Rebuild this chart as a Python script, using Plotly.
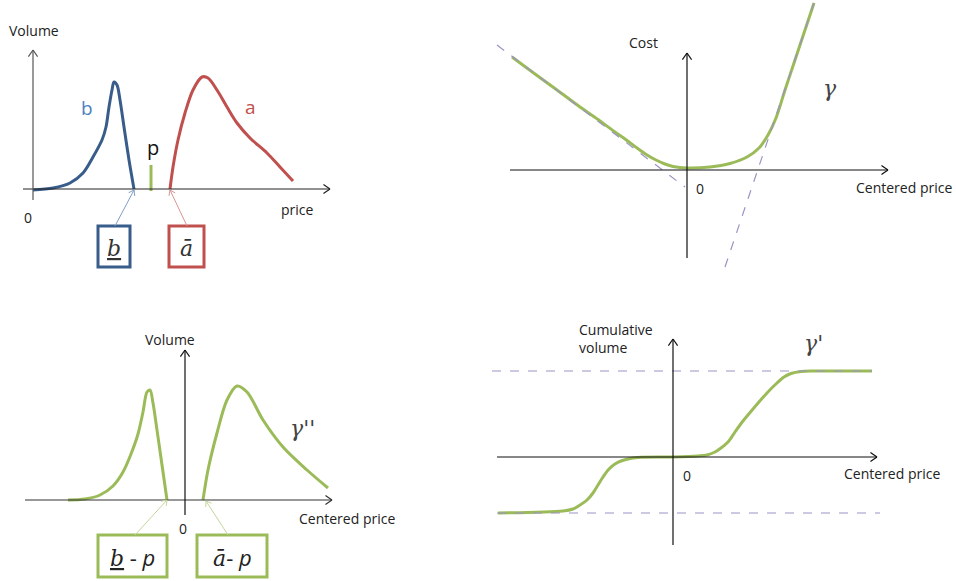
import plotly.graph_objects as go
import math

# ---------------- DATA (schematic units, y up, origin at axis crossing) ----------------
# Panel 1: order book volumes vs price
bid_price = [0, 20, 37, 50, 60, 69, 73, 76, 79, 81, 84, 87, 91, 96, 101]
bid_volume = [-1, 1, 6, 16, 32, 49, 62, 82, 99, 107, 104, 89, 62, 29, 0]
ask_price = [137, 140, 145, 152, 160, 169, 175, 184, 194, 204, 217, 234, 247, 260]
ask_volume = [0, 22, 49, 76, 99, 112, 111, 99, 82, 66, 51, 36, 22, 8]
mid_price = [118, 118]
mid_mark = [-2, 24]

# Panel 2: cost gamma vs centered price
cost_x = [-175, -152, -130, -107, -87, -72, -60, -50, -40, -31, -22, -14, 0,
          23, 43, 60, 72, 81, 89, 98, 107, 117, 127]
cost_y = [113, 96, 80, 63, 49, 38, 29.5, 22, 15, 10, 6, 3.5, 2,
          3, 6.5, 13, 22, 35, 52, 80, 107, 137, 167]
asym_left_x = [-190, -2]
asym_left_y = [125, -17]
asym_right_x = [38, 127]
asym_right_y = [-97, 167]

# Panel 3: gamma'' (volume vs centered price)
g2_left_x = [-117, -100, -85, -72, -62, -54, -47, -42, -38, -35, -32, -28, -23, -18]
g2_left_y = [0, 1, 5, 14, 28, 46, 66, 88, 108, 110, 97, 70, 35, 0]
g2_right_x = [18, 23, 32, 42, 52, 62, 78, 98, 122, 143]
g2_right_y = [0, 30, 67, 100, 114, 108, 80, 53, 30, 12]

# Panel 4: gamma' cumulative volume
g1_x = [-175, -110, -100, -93, -86, -80, -75, -70, -64, -58, -52, -45, -35, 0,
        25, 34, 42, 48, 55, 62, 70, 80, 94, 104, 111, 118, 128, 140, 199]
g1_y = [-56, -54, -52, -48, -43, -36, -28, -20, -12, -7, -4, -2, -0.5, 0,
        1, 2, 5, 9, 15, 25, 36, 48, 64, 74, 80, 83.5, 85.5, 86, 86]
g1_top = 86
g1_bottom = -56

# ---------------- LAYOUT ----------------
W, H = 956, 581
BLUE, BLUE_LBL, BLUE_ARR = "#385d8a", "#4f81bd", "#7f9fc8"
RED, RED_ARR = "#c0504d", "#d99694"
GREEN, GREEN_ARR = "#9bbb59", "#c3d69b"
DASH = "#9a93c4"
SANS = "Open Sans"
SERIF = "DejaVu Serif"
LBL = 14

panels = {
    1: dict(box=(0, 478, 0, 290), origin=(33, 189)),
    2: dict(box=(478, 956, 0, 290), origin=(687, 170)),
    3: dict(box=(0, 478, 290, 581), origin=(185, 500)),
    4: dict(box=(478, 956, 290, 581), origin=(673, 457)),
}

fig = go.Figure()
layout = dict(width=W, height=H, margin=dict(l=0, r=0, t=0, b=0),
              paper_bgcolor="white", plot_bgcolor="white", showlegend=False)
for k, p in panels.items():
    x0, x1, y0, y1 = p["box"]
    ox, oy = p["origin"]
    sfx = "" if k == 1 else str(k)
    ax = dict(visible=False, showgrid=False, zeroline=False, fixedrange=True)
    layout["xaxis" + sfx] = dict(ax, domain=[x0 / W, x1 / W], range=[x0 - ox, x1 - ox],
                                 anchor="y" + sfx)
    layout["yaxis" + sfx] = dict(ax, domain=[1 - y1 / H, 1 - y0 / H], range=[oy - y1, oy - y0],
                                 anchor="x" + sfx)
fig.update_layout(**layout)

shapes, annots = [], []


def refs(k):
    s = "" if k == 1 else str(k)
    return "x" + s, "y" + s


def line(k, xa, ya, xb, yb, color, width=1.2, dash="solid"):
    xr, yr = refs(k)
    shapes.append(dict(type="line", xref=xr, yref=yr, x0=xa, y0=ya, x1=xb, y1=yb,
                       line=dict(color=color, width=width, dash=dash)))


def arrow(k, xa, ya, xb, yb, color, width=1.2, head=8):
    line(k, xa, ya, xb, yb, color, width)
    ang = math.atan2(yb - ya, xb - xa)
    for s in (1, -1):
        a = ang + math.pi - s * math.radians(35)
        line(k, xb, yb, xb + head * math.cos(a), yb + head * math.sin(a), color, width)


def text(k, x, y, t, size=LBL, color="#222", family=SANS, xanchor="center", align="center"):
    xr, yr = refs(k)
    annots.append(dict(xref=xr, yref=yr, x=x, y=y, text=t, showarrow=False,
                       xanchor=xanchor, yanchor="middle", align=align,
                       font=dict(size=size, color=color, family=family)))


def box(k, xa, xb, ya, yb, color, width=3):
    xr, yr = refs(k)
    shapes.append(dict(type="rect", xref=xr, yref=yr, x0=xa, x1=xb, y0=ya, y1=yb,
                       line=dict(color=color, width=width), fillcolor="white"))


def curve(k, xs, ys, color, width=3, smoothing=0.9):
    xr, yr = refs(k)
    fig.add_trace(go.Scatter(x=xs, y=ys, mode="lines", xaxis=xr, yaxis=yr,
                             line=dict(color=color, width=width, shape="spline",
                                       smoothing=smoothing),
                             hoverinfo="skip"))


# ----- Panel 1 -----
arrow(1, -10, 0, 297, 0, "#222")
arrow(1, 0, -11, 0, 139, "#555")
curve(1, bid_price, bid_volume, BLUE)
curve(1, ask_price, ask_volume, RED)
xr, yr = refs(1)
fig.add_trace(go.Scatter(x=mid_price, y=mid_mark, mode="lines", xaxis=xr, yaxis=yr,
                         line=dict(color=GREEN, width=3), hoverinfo="skip"))
text(1, 1, 159, "Volume")
text(1, -5, -28, "0")
text(1, 264, -20, "price")
text(1, 54, 81, "b", size=19, color=BLUE_LBL)
text(1, 217, 82, "a", size=19, color=RED)
text(1, 120, 42, "p", size=20, color="#111")
box(1, 65, 97, -37, -78, BLUE)
box(1, 136, 171, -37, -78, RED)
arrow(1, 82, -37, bid_price[-1], -1, BLUE_ARR, width=1, head=6)
arrow(1, 154, -37, ask_price[0], -1, RED_ARR, width=1, head=6)
text(1, 81, -59, "<u><i>b</i></u>", size=22, family=SERIF, color="#333")
text(1, 153.5, -59, "<i>ā</i>", size=22, family=SERIF, color="#333")

# ----- Panel 2 -----
line(2, asym_left_x[0], asym_left_y[0], asym_left_x[1], asym_left_y[1], DASH, 1.2, "dash")
line(2, asym_right_x[0], asym_right_y[0], asym_right_x[1], asym_right_y[1], DASH, 1.2, "dash")
arrow(2, -177, 0, 201, 0, "#111")
arrow(2, 0, -88, 0, 117, "#111")
curve(2, cost_x, cost_y, GREEN)
text(2, -44, 128, "Cost")
text(2, 13, -18, "0")
text(2, 217, -17, "Centered price")
text(2, 143, 82, "<i>γ</i>", size=22, family=SERIF, color="#444")

# ----- Panel 3 -----
arrow(3, -160, 0, 147, 0, "#333")
arrow(3, 0, -15, 0, 150, "#111")
curve(3, g2_left_x, g2_left_y, GREEN)
curve(3, g2_right_x, g2_right_y, GREEN)
text(3, -15, 161, "Volume")
text(3, -2, -28, "0")
text(3, 162, -18, "Centered price")
text(3, 117, 72, "<i>γ''</i>", size=22, family=SERIF, color="#444")
box(3, -87, -18, -35, -77, GREEN)
box(3, 12, 82, -35, -77, GREEN)
arrow(3, -50, -35, g2_left_x[-1], 0, GREEN_ARR, width=1, head=6)
arrow(3, 43, -35, g2_right_x[0] + 3, -1, GREEN_ARR, width=1, head=6)
text(3, -52.5, -57, "<u><i>b</i></u><span style='font-family:Open Sans'> - <i>p</i></span>",
     size=22, family=SERIF, color="#222")
text(3, 47, -57, "<i>ā</i><span style='font-family:Open Sans'>- <i>p</i></span>",
     size=22, family=SERIF, color="#222")

# ----- Panel 4 -----
line(4, -181, g1_top, 199, g1_top, DASH, 1, "dash")
line(4, -176, g1_bottom, 207, g1_bottom, DASH, 1, "dash")
arrow(4, -176, 0, 204, 0, "#111")
arrow(4, 0, -88, 0, 118, "#111")
curve(4, g1_x, g1_y, GREEN)
text(4, -96, 119, "Cumulative<br>volume", xanchor="left", align="left")
text(4, 14, -18, "0")
text(4, 219, -16, "Centered price")
text(4, 140, 114, "<i>γ'</i>", size=22, family=SERIF, color="#444")

fig.update_layout(shapes=shapes, annotations=annots)
fig.write_html("out.html", config={"displayModeBar": False},
               post_script="document.body.style.margin='0';document.body.style.overflow='hidden';")
